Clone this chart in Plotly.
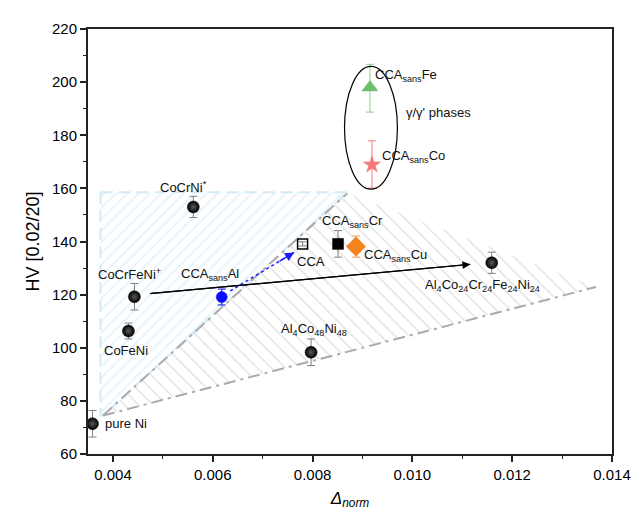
import plotly.graph_objects as go

# ---------------- data ----------------
alloys = ["pure Ni", "CoFeNi", "CoCrFeNi+", "CoCrNi*", "Al4Co48Ni48", "Al4Co24Cr24Fe24Ni24",
          "CCA", "CCAsansAl", "CCAsansCr", "CCAsansCu", "CCAsansFe", "CCAsansCo"]
delta_norm = [0.00359, 0.00431, 0.00443, 0.00561, 0.00797, 0.01159,
              0.00780, 0.00618, 0.00851, 0.00887, 0.00915, 0.00919]
hv = [71.4, 106.3, 119.2, 153.0, 98.3, 132.0,
      139.1, 119.1, 139.1, 138.1, 198.0, 168.9]
hv_err_plus = [5.0, 3.0, 5.0, 4.0, 5.0, 4.0,
               0.8, 3.0, 5.0, 4.0, 8.7, 9.0]
hv_err_minus = [5.0, 3.0, 5.0, 4.0, 5.0, 4.0,
                0.8, 3.0, 5.0, 4.0, 9.3, 8.8]

# label texts and their anchor positions (data coordinates)
label_text = ["pure Ni", "CoFeNi", "CoCrFeNi<sup>+</sup>", "CoCrNi<sup>*</sup>",
              "Al<sub>4</sub>Co<sub>48</sub>Ni<sub>48</sub>",
              "Al<sub>4</sub>Co<sub>24</sub>Cr<sub>24</sub>Fe<sub>24</sub>Ni<sub>24</sub>",
              "CCA", "CCA<sub>sans</sub>Al", "CCA<sub>sans</sub>Cr", "CCA<sub>sans</sub>Cu",
              "CCA<sub>sans</sub>Fe", "CCA<sub>sans</sub>Co", "γ/γ' phases"]
label_x = [0.00380, 0.00427, 0.00433, 0.00541, 0.00803, 0.01141,
           0.00797, 0.00594, 0.00880, 0.00966, 0.00988, 0.01002, 0.01052]
label_y = [71.3, 99.0, 127.7, 160.5, 106.9, 123.6,
           132.6, 127.7, 147.4, 134.8, 202.5, 172.0, 188.4]

# trend arrows (start -> end)
arrow_black_x = [0.00474, 0.01116]
arrow_black_y = [120.4, 131.4]
arrow_blue_x = [0.00635, 0.00763]
arrow_blue_y = [121.4, 135.9]

# shaded regions
blue_region_x = [0.00375, 0.00870, 0.00380, 0.00375, 0.00375]
blue_region_y = [158.5, 158.5, 74.5, 74.5, 158.5]
grey_region_x = [0.00380, 0.00870, 0.01368, 0.00380]
grey_region_y = [74.5, 158.2, 122.9, 74.5]

# ellipse around gamma/gamma' alloys
ellipse_x = [0.00864, 0.00970]
ellipse_y = [159.7, 205.9]

x_ticks = [0.004, 0.006, 0.008, 0.010, 0.012, 0.014]
x_tick_labels = ["0.004", "0.006", "0.008", "0.010", "0.012", "0.014"]
y_ticks = [60, 80, 100, 120, 140, 160, 180, 200, 220]

# ---------------- styles ----------------
SPH = dict(symbol="circle", color="black", size=12, ecolor="#808080", sphere=True)
style = {
    "pure Ni": SPH, "CoFeNi": SPH, "CoCrFeNi+": SPH, "CoCrNi*": SPH,
    "Al4Co48Ni48": SPH, "Al4Co24Cr24Fe24Ni24": SPH,
    "CCA": dict(symbol="square-open", color="black", size=10, ecolor="#808080"),
    "CCAsansAl": dict(symbol="circle", color="#0a0aff", size=11, ecolor="#0a0aff"),
    "CCAsansCr": dict(symbol="square", color="black", size=11, ecolor="#808080"),
    "CCAsansCu": dict(symbol="diamond", color="#f5841f", size=15, ecolor="#f5a060"),
    "CCAsansFe": dict(symbol="triangle-up", color="#6cbf6c", size=14, ecolor="#8fcf8f"),
    "CCAsansCo": dict(symbol="star", color="#f47a7a", size=13, ecolor="#f47a7a"),
}

fig = go.Figure()

# regions
fig.add_trace(go.Scatter(
    x=blue_region_x, y=blue_region_y, mode="lines", fill="toself",
    fillcolor="rgba(0,0,0,0)",
    fillpattern=dict(shape="/", fgcolor="#cfe8f7", bgcolor="rgba(0,0,0,0)", size=8, solidity=0.25),
    line=dict(color="#d2eaf8", width=2, dash="12px,6px"),
    hoverinfo="skip", showlegend=False))
fig.add_trace(go.Scatter(
    x=grey_region_x, y=grey_region_y, mode="none", fill="toself",
    fillcolor="rgba(0,0,0,0)",
    fillpattern=dict(shape="\\", fgcolor="#bdbdbd", bgcolor="rgba(0,0,0,0)", size=10, solidity=0.12),
    hoverinfo="skip", showlegend=False))
# dash-dot boundaries
fig.add_trace(go.Scatter(
    x=[grey_region_x[0], grey_region_x[1]], y=[grey_region_y[0], grey_region_y[1]],
    mode="lines", line=dict(color="#ababab", width=2, dash="12px,5px,3px,5px"),
    hoverinfo="skip", showlegend=False))
fig.add_trace(go.Scatter(
    x=[grey_region_x[0], grey_region_x[2]], y=[grey_region_y[0], grey_region_y[2]],
    mode="lines", line=dict(color="#ababab", width=2, dash="12px,5px,3px,5px"),
    hoverinfo="skip", showlegend=False))

# black trend line
fig.add_trace(go.Scatter(x=arrow_black_x, y=arrow_black_y, mode="lines",
                         line=dict(color="black", width=1.2), hoverinfo="skip", showlegend=False))
# blue dotted trend line
fig.add_trace(go.Scatter(x=arrow_blue_x, y=arrow_blue_y, mode="lines",
                         line=dict(color="#1a1aff", width=1.5, dash="dot"), hoverinfo="skip", showlegend=False))

# data points
for i, name in enumerate(alloys):
    s = style[name]
    marker = dict(symbol=s["symbol"], color=s["color"], size=s["size"],
                  line=dict(color=s["color"], width=1.5 if "open" in s["symbol"] else 0.5))
    if s.get("sphere"):
        marker["gradient"] = dict(type="radial", color="#5a5a5a")
    fig.add_trace(go.Scatter(
        x=[delta_norm[i]], y=[hv[i]], mode="markers", marker=marker,
        error_y=dict(type="data", symmetric=False, array=[hv_err_plus[i]], arrayminus=[hv_err_minus[i]],
                     color=s["ecolor"], thickness=1, width=4),
        name=name, showlegend=False))

# arrow heads
annotations = [
    dict(x=arrow_black_x[1], y=arrow_black_y[1], ax=arrow_black_x[0], ay=arrow_black_y[0],
         xref="x", yref="y", axref="x", ayref="y", showarrow=True, arrowhead=2,
         arrowsize=1.3, arrowwidth=1.2, arrowcolor="black", text=""),
    dict(x=arrow_blue_x[1], y=arrow_blue_y[1],
         ax=arrow_blue_x[1] - 0.25 * (arrow_blue_x[1] - arrow_blue_x[0]),
         ay=arrow_blue_y[1] - 0.25 * (arrow_blue_y[1] - arrow_blue_y[0]),
         xref="x", yref="y", axref="x", ayref="y", showarrow=True, arrowhead=2,
         arrowsize=1.2, arrowwidth=1.5, arrowcolor="#1a1aff", text=""),
]
for i, t in enumerate(label_text):
    ann = dict(x=label_x[i], y=label_y[i], xref="x", yref="y", text=t, showarrow=False,
               font=dict(family="Liberation Sans, Arial", size=13, color="#111111"))
    if t == "pure Ni":
        ann["xanchor"] = "left"
    annotations.append(ann)

fig.add_shape(type="circle", xref="x", yref="y",
              x0=ellipse_x[0], x1=ellipse_x[1], y0=ellipse_y[0], y1=ellipse_y[1],
              line=dict(color="black", width=1.2))

# page body has an 8px default margin, so the figure is shifted; compensate
fig.update_layout(
    width=635, height=509,
    margin=dict(l=80, r=22, t=14, b=57),
    paper_bgcolor="white", plot_bgcolor="white",
    font=dict(family="Liberation Sans, Arial", color="black"),
    annotations=annotations,
    showlegend=False,
)
fig.update_xaxes(
    range=[0.0035, 0.014], tickvals=x_ticks, ticktext=x_tick_labels,
    ticks="outside", ticklen=6, tickwidth=1.5, tickcolor="#222",
    minor=dict(dtick=0.001, tick0=0.003, ticks="outside", ticklen=3, tickwidth=1.2, tickcolor="#222"),
    showline=True, linecolor="#222", linewidth=2, mirror=True,
    showgrid=False, zeroline=False,
    tickfont=dict(size=15, family="Liberation Sans, Arial"),
    title=dict(text="<i>Δ<sub>norm</sub></i>", font=dict(size=17, family="Liberation Sans, Arial"), standoff=10),
)
fig.update_yaxes(
    range=[60, 220], tickvals=y_ticks,
    ticks="outside", ticklen=6, tickwidth=1.5, tickcolor="#222",
    minor=dict(dtick=10, tick0=60, ticks="outside", ticklen=3, tickwidth=1.2, tickcolor="#222"),
    showline=True, linecolor="#222", linewidth=2, mirror=True,
    showgrid=False, zeroline=False,
    tickfont=dict(size=15, family="Liberation Sans, Arial"),
    title=dict(text="HV [0.02/20]", font=dict(size=18, family="Liberation Sans, Arial"), standoff=8),
)

fig.write_html("out.html")
